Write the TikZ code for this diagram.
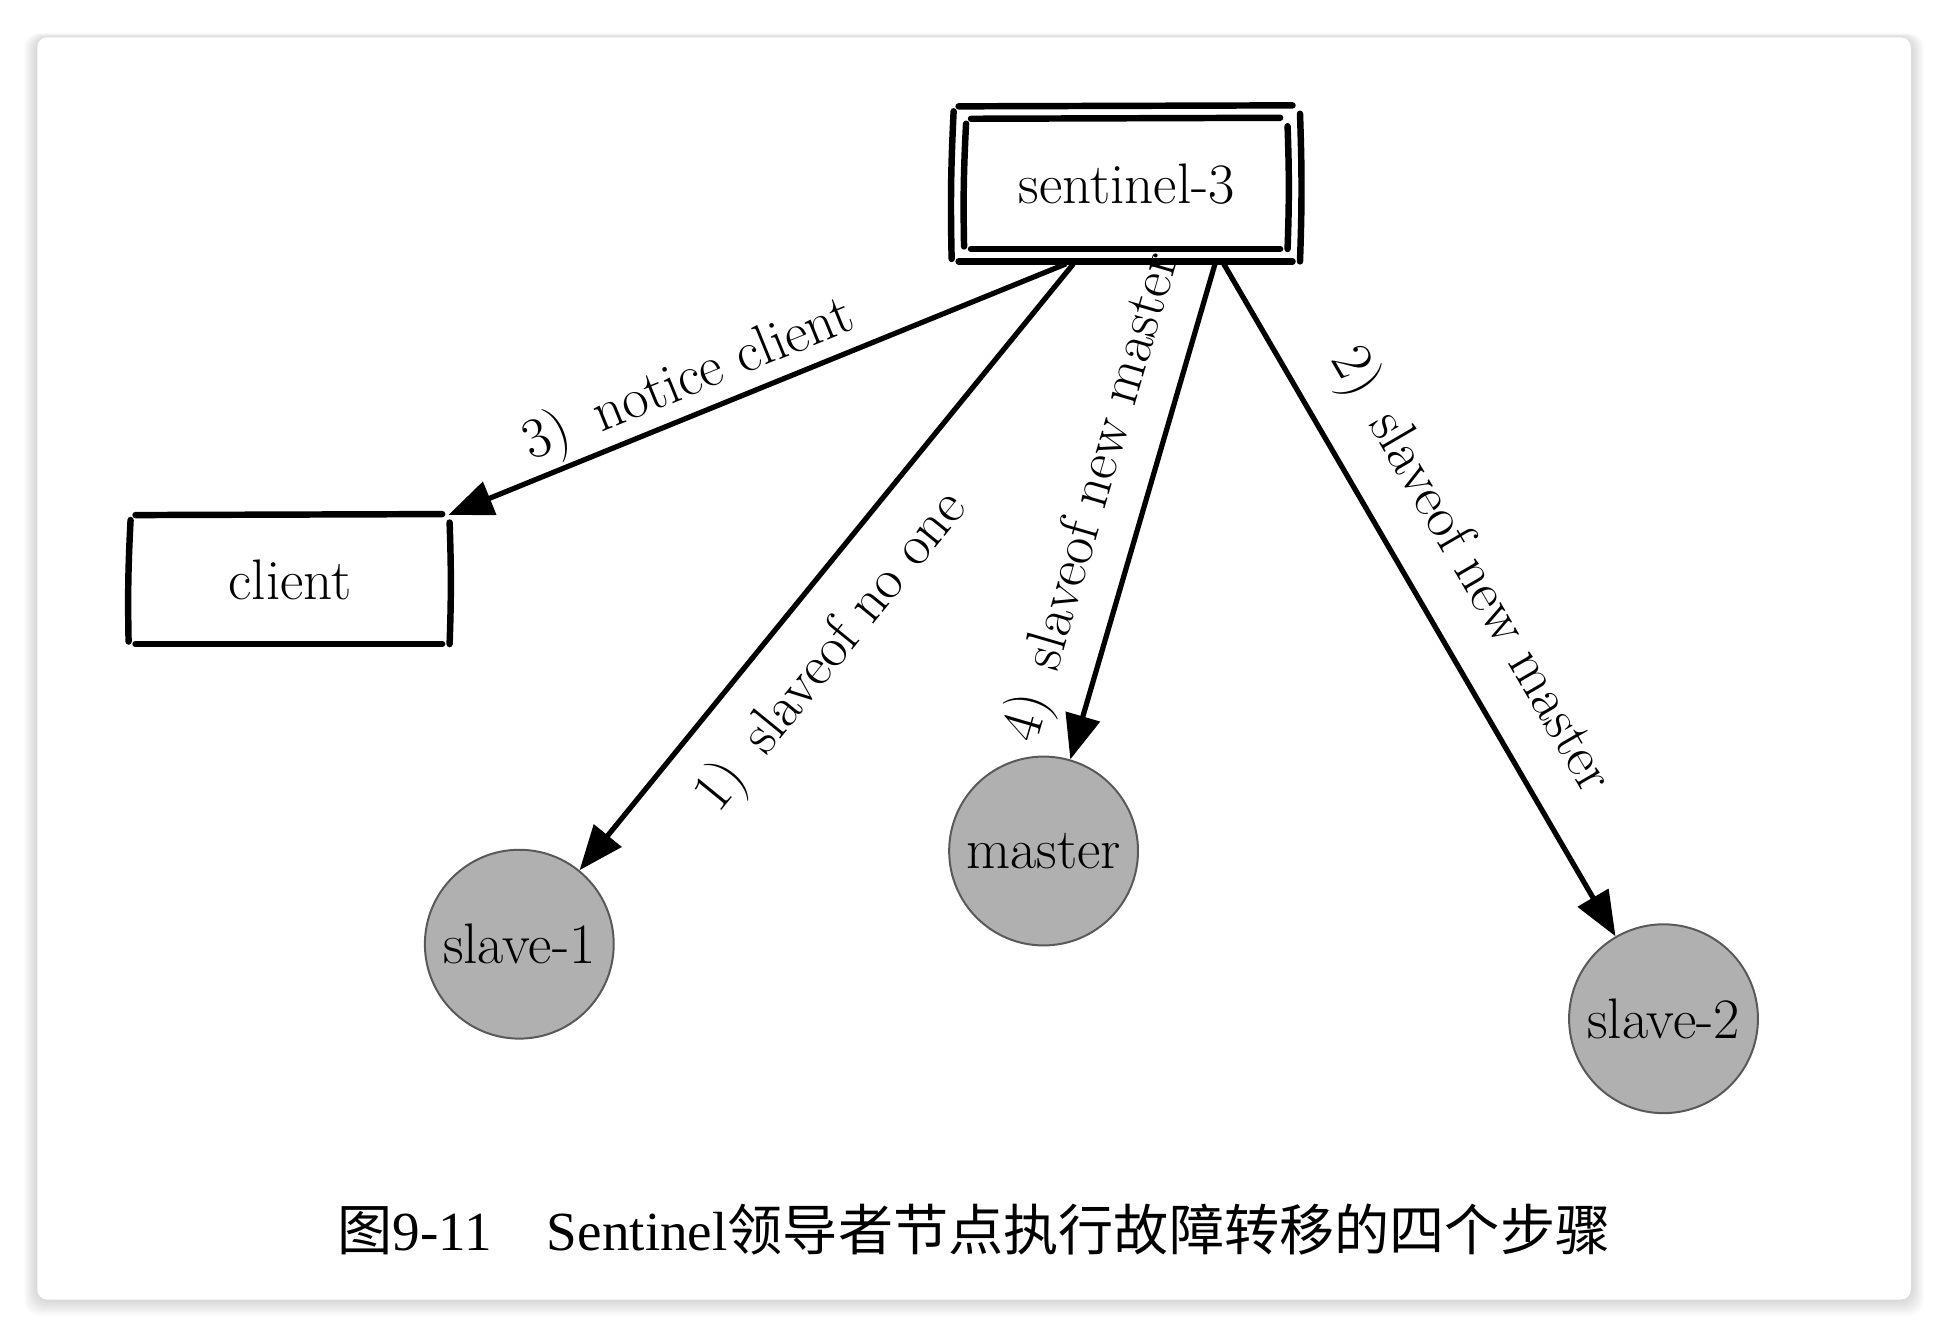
\documentclass[tikz,border=0pt]{standalone}
\usepackage{fontspec}
\newfontfamily\cjk{Noto Sans CJK SC}
\newfontfamily\capfont{Liberation Serif}
\usetikzlibrary{arrows.meta}
\usetikzlibrary{positioning, calc}
\definecolor{srvgray}{RGB}{176,176,176}
% hand drawn looking rectangle round a node, #2 = how far out
\newcommand{\roughbox}[2]{%
  \draw[rough] ([shift={(2pt-#2,#2)}]#1.north west) -- ([shift={(-3pt+#2,#2+0.4pt)}]#1.north east);
  \draw[rough] ([shift={(2pt-#2,-#2)}]#1.south west) -- ([shift={(-3pt+#2,-#2)}]#1.south east);
  \draw[rough] ([shift={(-#2,-2pt+#2)}]#1.north west) to[bend right=2] ([shift={(-#2-0.8pt,1pt-#2)}]#1.south west);
  \draw[rough] ([shift={(#2,-3pt+#2)}]#1.north east) to[bend left=2] ([shift={(#2,-#2)}]#1.south east);}

\begin{document}
\begin{tikzpicture}[x=0.5pt,y=-0.5pt,
    rough/.style={line width=2.6pt, line cap=round},
    box/.style={rectangle, inner sep=0pt, minimum width=128pt, minimum height=51.5pt, font=\fontsize{23}{27}\selectfont},
    server/.style={circle, draw=black!65, line width=0.8pt, fill=srvgray, minimum size=76pt, inner sep=0pt, font=\fontsize{23}{27}\selectfont}]
    \tikzset{arr/.style={line width=2.1pt, -{Triangle[length=18pt,width=14pt]}}}
    \tikzset{lbl/.style={sloped, font=\fontsize{23}{27}\selectfont}}
    \useasboundingbox (0,0) rectangle (1568,1076);
    % card with a soft shadow
    \foreach \i in {1,...,8}
        \fill[black, opacity=0.02, rounded corners=6pt] (30-1.3*\i,30-0.4*\i) rectangle (1538+1.3*\i,1046+1.6*\i);
    \fill[white, rounded corners=4pt] (30,30) rectangle (1538,1046);

    \node[box, minimum width=129pt, minimum height=52pt] (sen) at (907,148) {sentinel-3};
    \node[box] (client) at (233.5,466.5) {client};
    \node[server] (slave1) at (418,760) {slave-1};
    \node[server] (master) at (840,685) {master};
    \node[server] (slave2) at (1339,820) {slave-2};

    \roughbox{sen}{0pt}
    \roughbox{sen}{5pt}
    \roughbox{client}{0pt}

    \coordinate (outc) at ([shift={(-24.5pt,-6pt)}]sen.south);
    \coordinate (outs1) at ([shift={(-21.5pt,-6pt)}]sen.south);
    \coordinate (outm) at ([shift={(35.5pt,-6pt)}]sen.south);
    \coordinate (outs2) at ([shift={(39pt,-6pt)}]sen.south);

    \draw[arr] (outc) -- node[lbl, above, pos=0.59, inner sep=0.8pt] {3)\hspace{0.5em}notice client} (client);
    \draw[arr] (outs1) -- node[lbl, below, pos=0.58, inner sep=11pt] {1)\hspace{0.5em}slaveof no one} (slave1);
    \draw[arr] (outm) -- node[lbl, above, pos=0.5, inner sep=8pt] {4)\hspace{0.5em}slaveof new master} (master);
    \draw[arr] (outs2) -- node[lbl, above, pos=0.5, inner sep=11pt] {2)\hspace{0.5em}slaveof new master} (slave2);

    \node[font=\fontsize{22.2}{26}\selectfont] (cap) at (784,990) {\cjk 图\capfont 9-11\hspace{1em}Sentinel\cjk 领导者节点执行故障转移的四个步骤};
\end{tikzpicture}
\end{document}
